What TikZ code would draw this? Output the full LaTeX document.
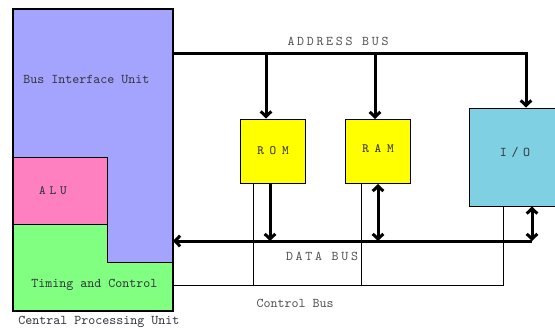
\documentclass[tikz,border=0pt]{standalone}
\usepackage{fontspec}
\setmonofont{Latin Modern Mono}
\usetikzlibrary{arrows.meta}

\definecolor{biucol}{RGB}{164,164,255}
\definecolor{alucol}{RGB}{255,128,192}
\definecolor{tccol}{RGB}{128,255,128}
\definecolor{memcol}{RGB}{255,255,0}
\definecolor{iocol}{RGB}{126,208,226}
\definecolor{txtcol}{RGB}{50,50,60}
\definecolor{buscol}{RGB}{80,80,80}

\tikzset{
  bus/.style={line width=2.25pt},
  ctlline/.style={line width=0.75pt},
  unitbox/.style={draw, line width=0.75pt, inner sep=0pt},
  lbl/.style={inner sep=0pt, text=txtcol, font=\ttfamily\fontsize{10}{12}\selectfont},
  buslbl/.style={lbl, text=buscol, font=\ttfamily\fontsize{10}{12}\selectfont\addfontfeature{LetterSpace=20}},
  memlbl/.style={lbl, font=\ttfamily\bfseries\fontsize{9.5}{12}\selectfont\addfontfeature{LetterSpace=45}},
  >={Straight Barb[length=3.8pt,width=8pt]}
}

\begin{document}
\begin{tikzpicture}[x=0.75pt,y=0.75pt,yscale=-1,xscale=1]
\useasboundingbox (0,0) rectangle (555,329);
\fill[white] (0,0) rectangle (555,329);

%Shape: Bus Interface Unit
\fill[biucol] (13,9) rectangle (173,311);
%Shape: ALU
\draw[fill=alucol, line width=0.75pt] (13,157) rectangle (107,224);
%Shape: Timing and Control
\draw[fill=tccol, line width=0.75pt] (13,224) -- (107,224) -- (107,262) -- (173,262) -- (173,311) -- (13,311) -- cycle;
%Shape: CPU frame
\node (cpu) [draw, line width=1.5pt, minimum width=120pt, minimum height=226.5pt, inner sep=0pt] at (93,160) {};

% Memory and I/O
\node (rom) [unitbox, fill=memcol, minimum width=48.75pt, minimum height=48pt] at (272.5,151) {};
\node (ram) [unitbox, fill=memcol, minimum width=48.75pt, minimum height=48pt] at (377.5,151.5) {};
\node (io) [unitbox, fill=iocol, minimum width=69pt, minimum height=73.5pt] at (515,157) {};

% Text Node
\node (biulbl) [lbl, anchor=west] at (23,79) {Bus Interface Unit};
\node (alulbl) [memlbl, font=\ttfamily\bfseries\fontsize{9.5}{12}\selectfont\addfontfeature{LetterSpace=30}] at (53,191) {ALU};
\node (tclbl) [lbl, anchor=west] at (31,285) {Timing and Control};
\node (cpulbl) [lbl, anchor=west] at (18,322) {Central Processing Unit};
\node (romlbl) [memlbl] at (273,151) {ROM};
\node (ramlbl) [memlbl] at (378,149) {RAM};
\node (iolbl) [lbl, font=\ttfamily\fontsize{10}{12}\selectfont\addfontfeature{LetterSpace=35}] at (515,152) {I/O};
\node (ablbl) [buslbl] at (338,41) {ADDRESS BUS};
\node (dblbl) [buslbl] at (322,256) {DATA BUS};
\node (cblbl) [lbl, text=buscol] at (295,303) {Control Bus};

%Address bus
\coordinate (abus) at (173,53);
\coordinate (a1) at (266,53);
\coordinate (a2) at (375,53);
\draw[bus, ->] (abus) -| ([xshift=8.25pt]io.north);
\draw[bus, ->] (a1) -- (a1 |- rom.north);
\draw[bus, ->] (a2) -- (a2 |- ram.north);

%Data bus
\coordinate (dbus) at (173,241);
\coordinate (d1) at (270,241);
\coordinate (d2) at (378,241);
\coordinate (d3) at (532,241);
\draw[bus, <-] (dbus) -- (d3);
\draw[bus, ->] (d1 |- rom.south) -- (d1);
\draw[bus, <->] (d2 |- ram.south) -- (d2);
\draw[bus, <->] (d3 |- io.south) -- (d3);

%Control bus
\coordinate (cbus) at (173,285);
\coordinate (c1) at (253,285);
\coordinate (c2) at (361,285);
\coordinate (c3) at (503,285);
\draw[ctlline] (cbus) -- (c3) -- (c3 |- io.south);
\draw[ctlline] (c1) -- (c1 |- rom.south);
\draw[ctlline] (c2) -- (c2 |- ram.south);

\end{tikzpicture}
\end{document}
